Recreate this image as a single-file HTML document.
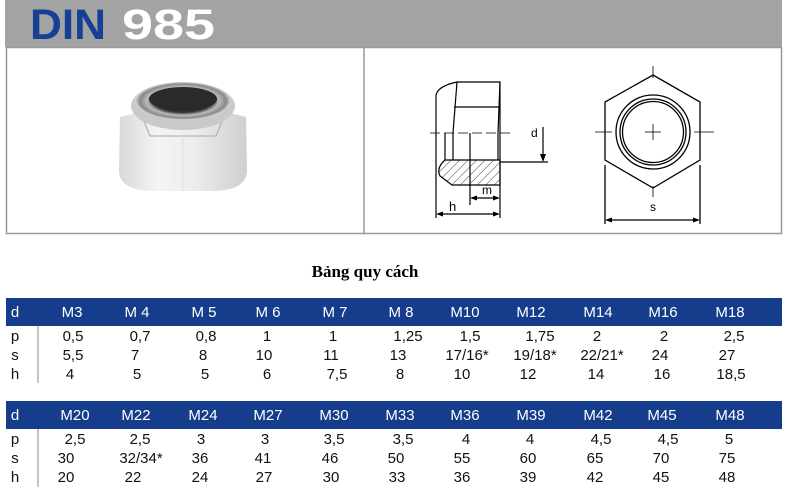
<!DOCTYPE html>
<html><head><meta charset="utf-8"><style>
html,body{margin:0;padding:0;background:#fff;}
svg{display:block;}
text{font-family:"Liberation Sans Narrow","Liberation Sans",sans-serif;}
</style></head><body>
<svg width="787" height="501" viewBox="0 0 787 501" xmlns="http://www.w3.org/2000/svg">
<defs>
<linearGradient id="body" x1="0" x2="1" y1="0" y2="0">
<stop offset="0" stop-color="#d8d8d8"/><stop offset="0.3" stop-color="#f4f4f4"/><stop offset="0.6" stop-color="#ececec"/><stop offset="1" stop-color="#cfcfcf"/></linearGradient>
<radialGradient id="dome" cx="0.5" cy="0.5" r="0.5">
<stop offset="0.6" stop-color="#333"/><stop offset="0.75" stop-color="#bbb"/><stop offset="0.9" stop-color="#888"/><stop offset="1" stop-color="#ddd"/></radialGradient>
<pattern id="hatch" width="6" height="6" patternUnits="userSpaceOnUse" patternTransform="rotate(45)"><line x1="0" y1="0" x2="0" y2="6" stroke="#000" stroke-width="0.8"/></pattern>
</defs>
<!-- header -->
<rect x="5" y="0" width="777" height="47" fill="#a3a3a3"/>
<text x="30" y="39" font-family="Liberation Sans" font-weight="bold" font-size="43" fill="#173f95" textLength="76" lengthAdjust="spacingAndGlyphs" style="font-family:'Liberation Sans',sans-serif">DIN</text>
<text x="122" y="39" font-weight="bold" font-size="43" fill="#fff" textLength="93" lengthAdjust="spacingAndGlyphs" style="font-family:'Liberation Sans',sans-serif">985</text>
<!-- boxes -->
<rect x="6.5" y="47.5" width="775" height="186" fill="none" stroke="#999" stroke-width="1.5"/>
<line x1="364" y1="48" x2="364" y2="233" stroke="#999" stroke-width="1.5"/>
<!-- photo nut -->
<path d="M120 117 L140 112 L226 112 L246 117 L247 172 Q245 190 215 191 L150 191 Q121 190 119 172 Z" fill="url(#body)"/>
<path d="M140 112 L150 136 L216 136 L226 112" fill="none" stroke="#aaa" stroke-width="1"/>
<line x1="183" y1="136" x2="183" y2="191" stroke="#ddd"/>
<ellipse cx="183" cy="106" rx="52" ry="24" fill="#c9c9c9"/>
<ellipse cx="183" cy="101" rx="48" ry="19" fill="url(#dome)"/>
<ellipse cx="183" cy="99" rx="34" ry="12" fill="#2a2a2a"/>
<!-- side view -->
<g fill="none" stroke="#000" stroke-width="1.2">
<path d="M436 182 L436 95 Q438 86 457 82 L500 82 L500 184"/>
<line x1="457" y1="82" x2="453" y2="133"/><line x1="500" y1="82" x2="498" y2="133"/>
<line x1="454" y1="107" x2="499" y2="107"/>
<line x1="445" y1="133" x2="445" y2="160"/><line x1="453" y1="133" x2="453" y2="160"/>
<line x1="470" y1="133" x2="470" y2="160"/><line x1="498" y1="133" x2="498" y2="160"/>
<path d="M445 160 L500 160 L500 185 L452 185 L440 176 Q436 168 445 160 Z" fill="url(#hatch)"/>
<line x1="470" y1="160" x2="470" y2="205"/>
<line x1="500" y1="185" x2="500" y2="218"/><line x1="436" y1="182" x2="436" y2="218"/>
<line x1="500" y1="162" x2="548" y2="162"/>
<line x1="543" y1="127" x2="543" y2="160"/>
<line x1="472" y1="198" x2="498" y2="198"/>
<line x1="438" y1="214" x2="498" y2="214"/>
</g>
<line x1="430" y1="133" x2="514" y2="133" stroke="#000" stroke-width="0.8" stroke-dasharray="10,4"/>
<g fill="#000">
<path d="M543 162 L540 154 L546 154 Z"/>
<path d="M470 198 L477 195.5 L477 200.5 Z"/><path d="M500 198 L493 195.5 L493 200.5 Z"/>
<path d="M436 214 L443 211.5 L443 216.5 Z"/><path d="M500 214 L493 211.5 L493 216.5 Z"/>
</g>
<text x="531" y="137" font-size="12">d</text>
<text x="482" y="194" font-size="12">m</text>
<text x="449" y="211" font-size="13">h</text>
<!-- hex view -->
<g fill="none" stroke="#000" stroke-width="1.3">
<polygon points="653,75 700,102 700,160 653,188 605,160 605,102"/>
<circle cx="653" cy="132" r="37"/>
<circle cx="653" cy="132" r="33"/>
<circle cx="653" cy="132" r="30.5"/>
<line x1="605" y1="165" x2="605" y2="224"/><line x1="700" y1="165" x2="700" y2="224"/>
<line x1="607" y1="220" x2="698" y2="220"/>
</g>
<g stroke="#000" stroke-width="0.8">
<line x1="595" y1="132" x2="612" y2="132"/><line x1="694" y1="132" x2="714" y2="132"/>
<line x1="645" y1="132" x2="661" y2="132"/><line x1="653" y1="124" x2="653" y2="140"/>
<line x1="653" y1="66" x2="653" y2="78"/><line x1="653" y1="186" x2="653" y2="197"/>
</g>
<path d="M605 220 L612 217.5 L612 222.5 Z M700 220 L693 217.5 L693 222.5 Z"/>
<text x="650" y="211" font-size="12">s</text>
<!-- title -->
<text x="365" y="277" text-anchor="middle" font-size="17" font-weight="bold" style="font-family:'Liberation Serif',serif">Bảng quy cách</text>
<!-- tables -->
<rect x="6" y="298" width="776" height="28" fill="#163d8c"/>
<rect x="6" y="401" width="776" height="28" fill="#163d8c"/>
<line x1="38" y1="326" x2="38" y2="383" stroke="#888"/>
<line x1="38" y1="429" x2="38" y2="487" stroke="#888"/>
<g font-size="15" text-anchor="middle" fill="#fff">
<text x="15" y="317">d</text>
<text x="72" y="317">M3</text><text x="137" y="317">M 4</text><text x="204" y="317">M 5</text><text x="268" y="317">M 6</text><text x="335" y="317">M 7</text><text x="401" y="317">M 8</text><text x="465" y="317">M10</text><text x="531" y="317">M12</text><text x="598" y="317">M14</text><text x="663" y="317">M16</text><text x="730" y="317">M18</text>
<text x="15" y="420">d</text>
<text x="75" y="420">M20</text><text x="136" y="420">M22</text><text x="203" y="420">M24</text><text x="268" y="420">M27</text><text x="334" y="420">M30</text><text x="400" y="420">M33</text><text x="465" y="420">M36</text><text x="531" y="420">M39</text><text x="598" y="420">M42</text><text x="662" y="420">M45</text><text x="730" y="420">M48</text>
</g>
<g font-size="15" text-anchor="middle" fill="#111">
<text x="15" y="341">p</text><text x="15" y="360">s</text><text x="15" y="379">h</text>
<text x="73" y="341">0,5</text><text x="140" y="341">0,7</text><text x="206" y="341">0,8</text><text x="267" y="341">1</text><text x="333" y="341">1</text><text x="408" y="341">1,25</text><text x="470" y="341">1,5</text><text x="540" y="341">1,75</text><text x="597" y="341">2</text><text x="664" y="341">2</text><text x="734" y="341">2,5</text>
<text x="73" y="360">5,5</text><text x="135" y="360">7</text><text x="203" y="360">8</text><text x="264" y="360">10</text><text x="331" y="360">11</text><text x="398" y="360">13</text><text x="467" y="360">17/16*</text><text x="535" y="360">19/18*</text><text x="602" y="360">22/21*</text><text x="660" y="360">24</text><text x="727" y="360">27</text>
<text x="70" y="379">4</text><text x="137" y="379">5</text><text x="205" y="379">5</text><text x="267" y="379">6</text><text x="337" y="379">7,5</text><text x="400" y="379">8</text><text x="462" y="379">10</text><text x="528" y="379">12</text><text x="596" y="379">14</text><text x="662" y="379">16</text><text x="731" y="379">18,5</text>
<text x="15" y="444">p</text><text x="15" y="463">s</text><text x="15" y="482">h</text>
<text x="75" y="444">2,5</text><text x="140" y="444">2,5</text><text x="201" y="444">3</text><text x="265" y="444">3</text><text x="334" y="444">3,5</text><text x="403" y="444">3,5</text><text x="466" y="444">4</text><text x="530" y="444">4</text><text x="601" y="444">4,5</text><text x="668" y="444">4,5</text><text x="729" y="444">5</text>
<text x="66" y="463">30</text><text x="141" y="463">32/34*</text><text x="200" y="463">36</text><text x="263" y="463">41</text><text x="330" y="463">46</text><text x="396" y="463">50</text><text x="462" y="463">55</text><text x="528" y="463">60</text><text x="595" y="463">65</text><text x="661" y="463">70</text><text x="727" y="463">75</text>
<text x="66" y="482">20</text><text x="133" y="482">22</text><text x="200" y="482">24</text><text x="264" y="482">27</text><text x="331" y="482">30</text><text x="397" y="482">33</text><text x="462" y="482">36</text><text x="528" y="482">39</text><text x="595" y="482">42</text><text x="661" y="482">45</text><text x="727" y="482">48</text>
</g>
</svg>
</body></html>
